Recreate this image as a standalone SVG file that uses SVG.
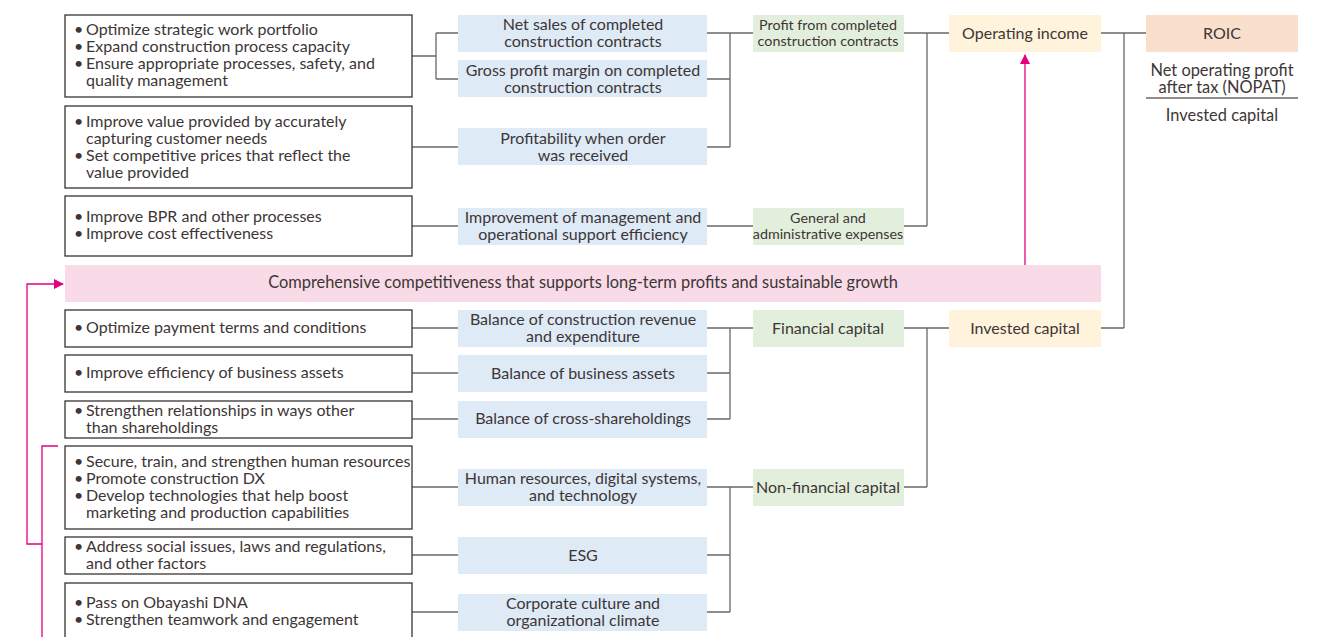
<svg xmlns="http://www.w3.org/2000/svg" width="1332" height="637" viewBox="0 0 1332 637">
<defs>
<style>
text{font-family:Lato,"Noto Sans",sans-serif;fill:#3d3636;font-size:16px}
.lb{fill:#fff;stroke:#3a3333;stroke-width:1.3}
.bl{fill:#deeaf6}
.gr{fill:#e2efdc}
.ye{fill:#fff3dc}
.ro{fill:#f9dfcc}
.pk{fill:#f8dbe6}
.c{text-anchor:middle}
.sm{font-size:14.3px}
.big{font-size:16.4px}
.con path{fill:none;stroke:#6e6664;stroke-width:1.3}
.mag{fill:none;stroke:#e4007f;stroke-width:1.3}
</style>
<marker id="ah" markerWidth="10" markerHeight="10" refX="9" refY="5" orient="auto" markerUnits="userSpaceOnUse" viewBox="0 0 10 10"><path d="M0,0 L10,5 L0,10 z" fill="#e4007f"/></marker>
</defs>
<rect width="1332" height="637" fill="#fff"/>

<g class="con">
<path d="M412,56 H436 M436,33 V79 M436,33 H458 M436,79 H458"/>
<path d="M412,147 H458"/>
<path d="M412,226 H458"/>
<path d="M707,33 H753 M707,79 H730 M707,147 H730 M730,33 V147"/>
<path d="M707,226 H753"/>
<path d="M904,33 H949 M904,226 H927 M927,33 V226"/>
<path d="M1101,33 H1146 M1101,328 H1124 M1124,33 V328"/>
<path d="M412,328 H458 M412,373 H458 M412,419 H458"/>
<path d="M707,328 H753 M707,373 H730 M707,419 H730 M730,328 V419"/>
<path d="M412,487 H458 M412,555 H458 M412,612 H458"/>
<path d="M707,487 H753 M707,555 H730 M707,612 H730 M730,487 V612"/>
<path d="M904,328 H949 M904,487 H927 M927,328 V487"/>
<path d="M1146,98 H1298"/>
</g>

<g id="pinkarrows">
<path class="mag" d="M1025,265 V55" marker-end="url(#ah)"/>
<path class="mag" d="M58,446 H42 V637 M42,544 H27 V284 H63" marker-end="url(#ah)"/>
</g>

<g id="l1"><rect class="lb" x="65" y="15" width="347" height="82"/>
<text y="35"><tspan x="74">•</tspan><tspan x="86">Optimize strategic work portfolio</tspan></text>
<text y="52"><tspan x="74">•</tspan><tspan x="86">Expand construction process capacity</tspan></text>
<text y="69"><tspan x="74">•</tspan><tspan x="86">Ensure appropriate processes, safety, and</tspan></text>
<text x="86" y="86">quality management</text></g>
<g id="l2"><rect class="lb" x="65" y="106" width="347" height="82"/>
<text y="127"><tspan x="74">•</tspan><tspan x="86">Improve value provided by accurately</tspan></text>
<text x="86" y="144">capturing customer needs</text>
<text y="161"><tspan x="74">•</tspan><tspan x="86">Set competitive prices that reflect the</tspan></text>
<text x="86" y="178">value provided</text></g>
<g id="l3"><rect class="lb" x="65" y="196" width="347" height="60"/>
<text y="222"><tspan x="74">•</tspan><tspan x="86">Improve BPR and other processes</tspan></text>
<text y="239"><tspan x="74">•</tspan><tspan x="86">Improve cost effectiveness</tspan></text></g>
<g id="l4"><rect class="lb" x="65" y="310" width="347" height="37"/>
<text y="333"><tspan x="74">•</tspan><tspan x="86">Optimize payment terms and conditions</tspan></text></g>
<g id="l5"><rect class="lb" x="65" y="355" width="347" height="37"/>
<text y="378"><tspan x="74">•</tspan><tspan x="86">Improve efficiency of business assets</tspan></text></g>
<g id="l6"><rect class="lb" x="65" y="401" width="347" height="37"/>
<text y="416"><tspan x="74">•</tspan><tspan x="86">Strengthen relationships in ways other</tspan></text>
<text x="86" y="433">than shareholdings</text></g>
<g id="l7"><rect class="lb" x="65" y="446" width="347" height="83"/>
<text y="467"><tspan x="74">•</tspan><tspan x="86">Secure, train, and strengthen human resources</tspan></text>
<text y="484"><tspan x="74">•</tspan><tspan x="86">Promote construction DX</tspan></text>
<text y="501"><tspan x="74">•</tspan><tspan x="86">Develop technologies that help boost</tspan></text>
<text x="86" y="518">marketing and production capabilities</text></g>
<g id="l8"><rect class="lb" x="65" y="537" width="347" height="37"/>
<text y="552"><tspan x="74">•</tspan><tspan x="86">Address social issues, laws and regulations,</tspan></text>
<text x="86" y="569">and other factors</text></g>
<g id="l9"><rect class="lb" x="65" y="583" width="347" height="60"/>
<text y="608"><tspan x="74">•</tspan><tspan x="86">Pass on Obayashi DNA</tspan></text>
<text y="625"><tspan x="74">•</tspan><tspan x="86">Strengthen teamwork and engagement</tspan></text></g>

<g id="bar"><rect class="pk" x="65" y="265" width="1036" height="37"/>
<text class="c big" x="583" y="288">Comprehensive competitiveness that supports long-term profits and sustainable growth</text></g>

<g id="b1"><rect class="bl" x="458" y="15" width="249" height="37"/>
<text class="c" x="583" y="30">Net sales of completed</text><text class="c" x="583" y="47">construction contracts</text></g>
<g id="b2"><rect class="bl" x="458" y="60" width="249" height="37"/>
<text class="c" x="583" y="76">Gross profit margin on completed</text><text class="c" x="583" y="93">construction contracts</text></g>
<g id="b3"><rect class="bl" x="458" y="128" width="249" height="37"/>
<text class="c" x="583" y="144">Profitability when order</text><text class="c" x="583" y="161">was received</text></g>
<g id="b4"><rect class="bl" x="458" y="208" width="249" height="37"/>
<text class="c" x="583" y="223">Improvement of management and</text><text class="c" x="583" y="240">operational support efficiency</text></g>
<g id="b5"><rect class="bl" x="458" y="310" width="249" height="37"/>
<text class="c" x="583" y="325">Balance of construction revenue</text><text class="c" x="583" y="342">and expenditure</text></g>
<g id="b6"><rect class="bl" x="458" y="355" width="249" height="37"/>
<text class="c" x="583" y="379">Balance of business assets</text></g>
<g id="b7"><rect class="bl" x="458" y="401" width="249" height="37"/>
<text class="c" x="583" y="424">Balance of cross-shareholdings</text></g>
<g id="b8"><rect class="bl" x="458" y="469" width="249" height="37"/>
<text class="c" x="583" y="484">Human resources, digital systems,</text><text class="c" x="583" y="501">and technology</text></g>
<g id="b9"><rect class="bl" x="458" y="537" width="249" height="37"/>
<text class="c" x="583" y="561">ESG</text></g>
<g id="b10"><rect class="bl" x="458" y="594" width="249" height="37"/>
<text class="c" x="583" y="609">Corporate culture and</text><text class="c" x="583" y="626">organizational climate</text></g>

<g id="g1"><rect class="gr" x="753" y="15" width="151" height="37"/>
<text class="c sm" x="828" y="30">Profit from completed</text><text class="c sm" x="828" y="46">construction contracts</text></g>
<g id="g2"><rect class="gr" x="753" y="208" width="151" height="37"/>
<text class="c sm" x="828" y="223">General and</text><text class="c sm" x="828" y="239">administrative expenses</text></g>
<g id="g3"><rect class="gr" x="753" y="310" width="151" height="37"/>
<text class="c" x="828" y="334">Financial capital</text></g>
<g id="g4"><rect class="gr" x="753" y="469" width="151" height="37"/>
<text class="c" x="828" y="493">Non-financial capital</text></g>

<g id="y1"><rect class="ye" x="949" y="15" width="152" height="37"/>
<text class="c" x="1025" y="39">Operating income</text></g>
<g id="y2"><rect class="ye" x="949" y="310" width="152" height="37"/>
<text class="c" x="1025" y="334">Invested capital</text></g>

<g id="roic"><rect class="ro" x="1146" y="15" width="152" height="37"/>
<text class="c" x="1222" y="39">ROIC</text>
<text class="c big" x="1222" y="76">Net operating profit</text>
<text class="c big" x="1222" y="93">after tax (NOPAT)</text>
<text class="c big" x="1222" y="121">Invested capital</text></g>
</svg>
